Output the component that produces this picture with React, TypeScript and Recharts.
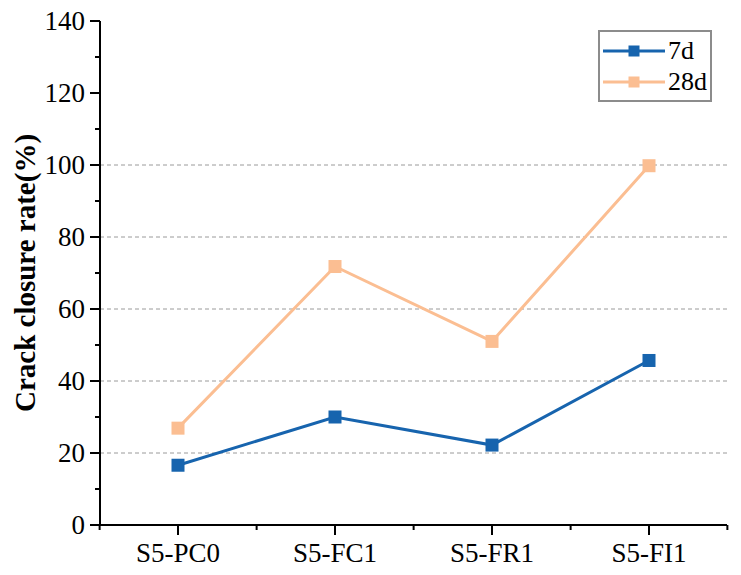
import {
  LineChart,
  Line,
  XAxis,
  YAxis,
  ReferenceLine,
  Legend,
} from "recharts";

const categories = ["S5-PC0", "S5-FC1", "S5-FR1", "S5-FI1"];
const rate7d = [16.6, 30.0, 22.2, 45.7];
const rate28d = [26.9, 71.8, 51.0, 99.8];
const yTicks = [0, 10, 20, 30, 40, 50, 60, 70, 80, 90, 100, 110, 120, 130, 140];
const gridValues = [20, 40, 60, 80, 100];

const data = categories.map((name, i) => ({
  name,
  "7d": rate7d[i],
  "28d": rate28d[i],
}));

const BLUE = "#1764ae";
const ORANGE = "#fbbe92";
const FONT = "'Liberation Serif', 'Times New Roman', serif";

const Y_SIZE = 10;
const Y_MARGIN = 5;
const X_SIZE = 10;
const X_MARGIN = 8;

const YTick = (props: any) => {
  const { x, y, payload } = props;
  const axisX = x + Y_SIZE + Y_MARGIN;
  const major = payload.value % 20 === 0;
  return (
    <g>
      <line x1={axisX - (major ? 10 : 5)} x2={axisX} y1={y} y2={y} stroke="#000" strokeWidth={2} />
      {major && (
        <text x={x} y={y} textAnchor="end" dy="0.35em" fontSize={27} fontFamily={FONT} fill="#000">
          {payload.value}
        </text>
      )}
    </g>
  );
};

const XTick = (props: any) => {
  const { x, y, payload, index, width, visibleTicksCount } = props;
  const axisY = y - X_SIZE - X_MARGIN;
  const bw = (width || 627) / (visibleTicksCount || categories.length);
  return (
    <g>
      <line x1={x} x2={x} y1={axisY} y2={axisY + 10} stroke="#000" strokeWidth={2} />
      <line x1={x - bw / 2} x2={x - bw / 2} y1={axisY} y2={axisY + 5} stroke="#000" strokeWidth={2} />
      {index === categories.length - 1 && (
        <line x1={x + bw / 2} x2={x + bw / 2} y1={axisY} y2={axisY + 5} stroke="#000" strokeWidth={2} />
      )}
      <text x={x} y={y} textAnchor="middle" dy="0.71em" fontSize={27} fontFamily={FONT} fill="#000">
        {payload.value}
      </text>
    </g>
  );
};

const squareDot = (color: string) => (props: any) => {
  const { cx, cy, index } = props;
  if (cx == null || cy == null) return <g key={index} />;
  return <rect key={index} x={cx - 6.5} y={cy - 6.5} width={13} height={13} fill={color} />;
};

const LegendBox = () => {
  const items = [
    { label: "7d", color: BLUE },
    { label: "28d", color: ORANGE },
  ];
  return (
    <div
      style={{
        border: "2px solid #8c8c8c",
        padding: "3px 0 3px 3px",
        fontFamily: FONT,
        fontSize: 26,
        background: "#fff",
      }}
    >
      {items.map((it) => (
        <div key={it.label} style={{ display: "flex", alignItems: "center", height: 31 }}>
          <svg width={62} height={14} style={{ marginRight: 3 }}>
            <line x1={0} x2={62} y1={7} y2={7} stroke={it.color} strokeWidth={3} />
            <rect x={25.5} y={1.5} width={11} height={11} fill={it.color} />
          </svg>
          <span style={{ lineHeight: "31px" }}>{it.label}</span>
        </div>
      ))}
    </div>
  );
};

export default function App() {
  return (
    <div style={{ position: "absolute", left: 0, top: 0, background: "#fff" }}>
      <LineChart
        width={741}
        height={575}
        data={data}
        margin={{ top: 21, right: 14, bottom: 0, left: 0 }}
      >
        {gridValues.map((v) => (
          <ReferenceLine key={v} y={v} stroke="#9a9a9a" strokeDasharray="4 3" strokeWidth={1} />
        ))}
        <XAxis
          dataKey="name"
          height={50}
          padding={{ left: 78, right: 78 }}
          tickLine={false}
          tickSize={X_SIZE}
          tickMargin={X_MARGIN}
          tick={<XTick />}
          axisLine={{ stroke: "#000", strokeWidth: 2 }}
          interval={0}
        />
        <XAxis
          xAxisId="top"
          orientation="top"
          dataKey="name"
          height={0}
          tick={false}
          tickLine={false}
          axisLine={{ stroke: "#000", strokeWidth: 2 }}
        />
        <YAxis
          width={100}
          domain={[0, 140]}
          ticks={yTicks}
          interval={0}
          tickLine={false}
          tickSize={Y_SIZE}
          tickMargin={Y_MARGIN}
          tick={<YTick />}
          axisLine={{ stroke: "#000", strokeWidth: 2 }}
          label={{
            value: "Crack closure rate(%)",
            angle: -90,
            position: "insideLeft",
            offset: 0,
            dx: 25,
            style: {
              textAnchor: "middle",
              fontFamily: FONT,
              fontSize: 29,
              fontWeight: "bold",
              fill: "#000",
            },
          }}
        />
        <YAxis
          yAxisId="right"
          orientation="right"
          width={0}
          domain={[0, 140]}
          tick={false}
          tickLine={false}
          axisLine={{ stroke: "#000", strokeWidth: 2 }}
        />
        <Legend
          layout="vertical"
          align="center"
          verticalAlign="middle"
          content={<LegendBox />}
          wrapperStyle={{ left: 598, top: 30, width: 114 }}
        />
        <Line
          type="linear"
          dataKey="7d"
          stroke={BLUE}
          strokeWidth={3}
          dot={squareDot(BLUE)}
          activeDot={false}
          isAnimationActive={false}
        />
        <Line
          type="linear"
          dataKey="28d"
          stroke={ORANGE}
          strokeWidth={3}
          dot={squareDot(ORANGE)}
          activeDot={false}
          isAnimationActive={false}
        />
      </LineChart>
    </div>
  );
}
